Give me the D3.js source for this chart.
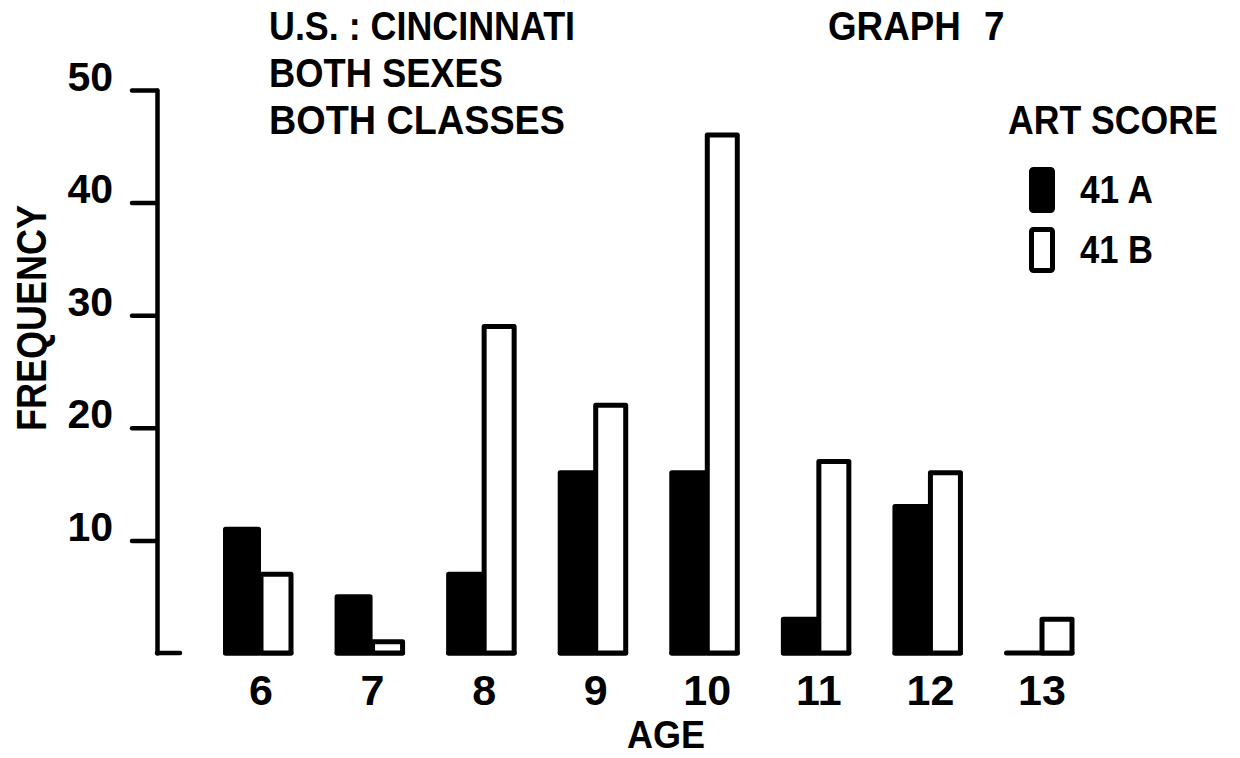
<!DOCTYPE html>
<html>
<head>
<meta charset="utf-8">
<script src="https://cdn.jsdelivr.net/npm/d3@7"></script>
<style>
  html, body { margin: 0; padding: 0; background: #fff; }
  svg { display: block; }
  text { font-family: "Liberation Sans", Arial, sans-serif; font-weight: bold; fill: #000; }
</style>
</head>
<body>
<svg id="chart" width="1240" height="758"></svg>
<script>
// ---- data ----
const ages = ["6", "7", "8", "9", "10", "11", "12", "13"];
const score41A = [11, 5, 7, 16, 16, 3, 13, 0];
const score41B = [7, 1, 29, 22, 46, 17, 16, 3];
const yTicks = [10, 20, 30, 40, 50];
const titleLines = ["U.S. : CINCINNATI", "BOTH SEXES", "BOTH CLASSES"];
const graphLabel = "GRAPH 7";
const legendTitle = "ART SCORE";
const seriesNames = ["41 A", "41 B"];
const xLabel = "AGE";
const yLabel = "FREQUENCY";

const svg = d3.select("#chart");

const x = d3.scalePoint().domain(ages).range([261, 1042]);
const y = d3.scaleLinear().domain([0, 50]).range([653, 90]);

// ---- y axis ----
const axisX = 157;
const yAxis = d3.axisLeft(y).tickValues(yTicks).tickSize(25).tickSizeOuter(0).tickFormat(d3.format("d"));
const gA = svg.append("g").attr("transform", `translate(${axisX},0)`).call(yAxis);
gA.select(".domain").attr("stroke", "#000").attr("stroke-width", 4.5).attr("stroke-linecap", "round");
gA.selectAll(".tick line").attr("stroke", "#000").attr("stroke-width", 4.5).attr("stroke-linecap", "round");
gA.selectAll(".tick text")
  .attr("x", -44).attr("dy", "0").attr("y", 0)
  .attr("text-anchor", "end")
  .style("font-family", "'Liberation Sans', Arial, sans-serif")
  .style("font-weight", "bold")
  .style("font-size", "41px")
  .attr("fill", "#000");
// foot of the axis
svg.append("line")
  .attr("x1", axisX).attr("x2", axisX + 23)
  .attr("y1", y(0)).attr("y2", y(0))
  .attr("stroke", "#000").attr("stroke-width", 4.5).attr("stroke-linecap", "round");

// ---- bars ----
const rows = ages.map((a, i) => ({ age: a, a: score41A[i], b: score41B[i] }));

svg.append("g").selectAll("rect").data(rows).join("rect")
  .attr("x", d => x(d.age) - 35.5)
  .attr("width", 33)
  .attr("y", d => y(d.a))
  .attr("height", d => y(0) - y(d.a))
  .attr("fill", "#000").attr("stroke", "#000").attr("stroke-width", 5)
  .attr("stroke-linejoin", "round");

// base line under each group (visible where a bar is zero)
svg.append("g").selectAll("line").data(rows).join("line")
  .attr("x1", d => x(d.age) - 35.5).attr("x2", d => x(d.age) + 30)
  .attr("y1", y(0)).attr("y2", y(0))
  .attr("stroke", "#000").attr("stroke-width", 5).attr("stroke-linecap", "round");

svg.append("g").selectAll("rect").data(rows).join("rect")
  .attr("x", d => x(d.age))
  .attr("width", 30)
  .attr("y", d => y(d.b))
  .attr("height", d => y(0) - y(d.b))
  .attr("fill", "#fff").attr("stroke", "#000").attr("stroke-width", 5)
  .attr("stroke-linejoin", "round");

// ---- x tick labels ----
svg.append("g").selectAll("text").data(ages).join("text")
  .attr("x", d => x(d)).attr("y", 705)
  .attr("text-anchor", "middle")
  .style("font-size", "43px")
  .text(d => d);

svg.append("text").attr("x", 666).attr("y", 748).attr("text-anchor", "middle")
  .style("font-size", "39px")
  .attr("textLength", 78).attr("lengthAdjust", "spacingAndGlyphs")
  .text(xLabel);

// y label
svg.append("text")
  .attr("transform", "translate(46,318) rotate(-90)")
  .attr("text-anchor", "middle")
  .style("font-size", "42px")
  .attr("textLength", 226).attr("lengthAdjust", "spacingAndGlyphs")
  .text(yLabel);

// ---- titles ----
const titleWidths = [306, 234, 296];
const titleBaselines = [40, 87, 134];
titleLines.forEach((t, i) => {
  svg.append("text").attr("x", 269).attr("y", titleBaselines[i])
    .style("font-size", "40px")
    .attr("textLength", titleWidths[i]).attr("lengthAdjust", "spacingAndGlyphs")
    .text(t);
});
svg.append("text").attr("x", 828).attr("y", 40)
  .style("font-size", "40px")
  .style("word-spacing", "14px")
  .attr("transform", "translate(828,0) scale(0.92,1) translate(-828,0)")
  .text(graphLabel);

// ---- legend ----
svg.append("text").attr("x", 0).attr("y", 0)
  .style("font-size", "40px")
  .attr("transform", "translate(1008,134) scale(0.89,1)")
  .text(legendTitle);

const legendFills = ["#000", "#fff"];
const legendY = [167, 227];
seriesNames.forEach((s, i) => {
  svg.append("rect")
    .attr("x", 1031.5).attr("y", legendY[i] + 2.5)
    .attr("width", 21).attr("height", 41)
    .attr("rx", 2)
    .attr("fill", legendFills[i]).attr("stroke", "#000").attr("stroke-width", 5);
  svg.append("text").attr("x", 1080).attr("y", legendY[i] + 36)
    .style("font-size", "38px")
    .attr("textLength", 73).attr("lengthAdjust", "spacingAndGlyphs")
    .text(s);
});
</script>
</body>
</html>
